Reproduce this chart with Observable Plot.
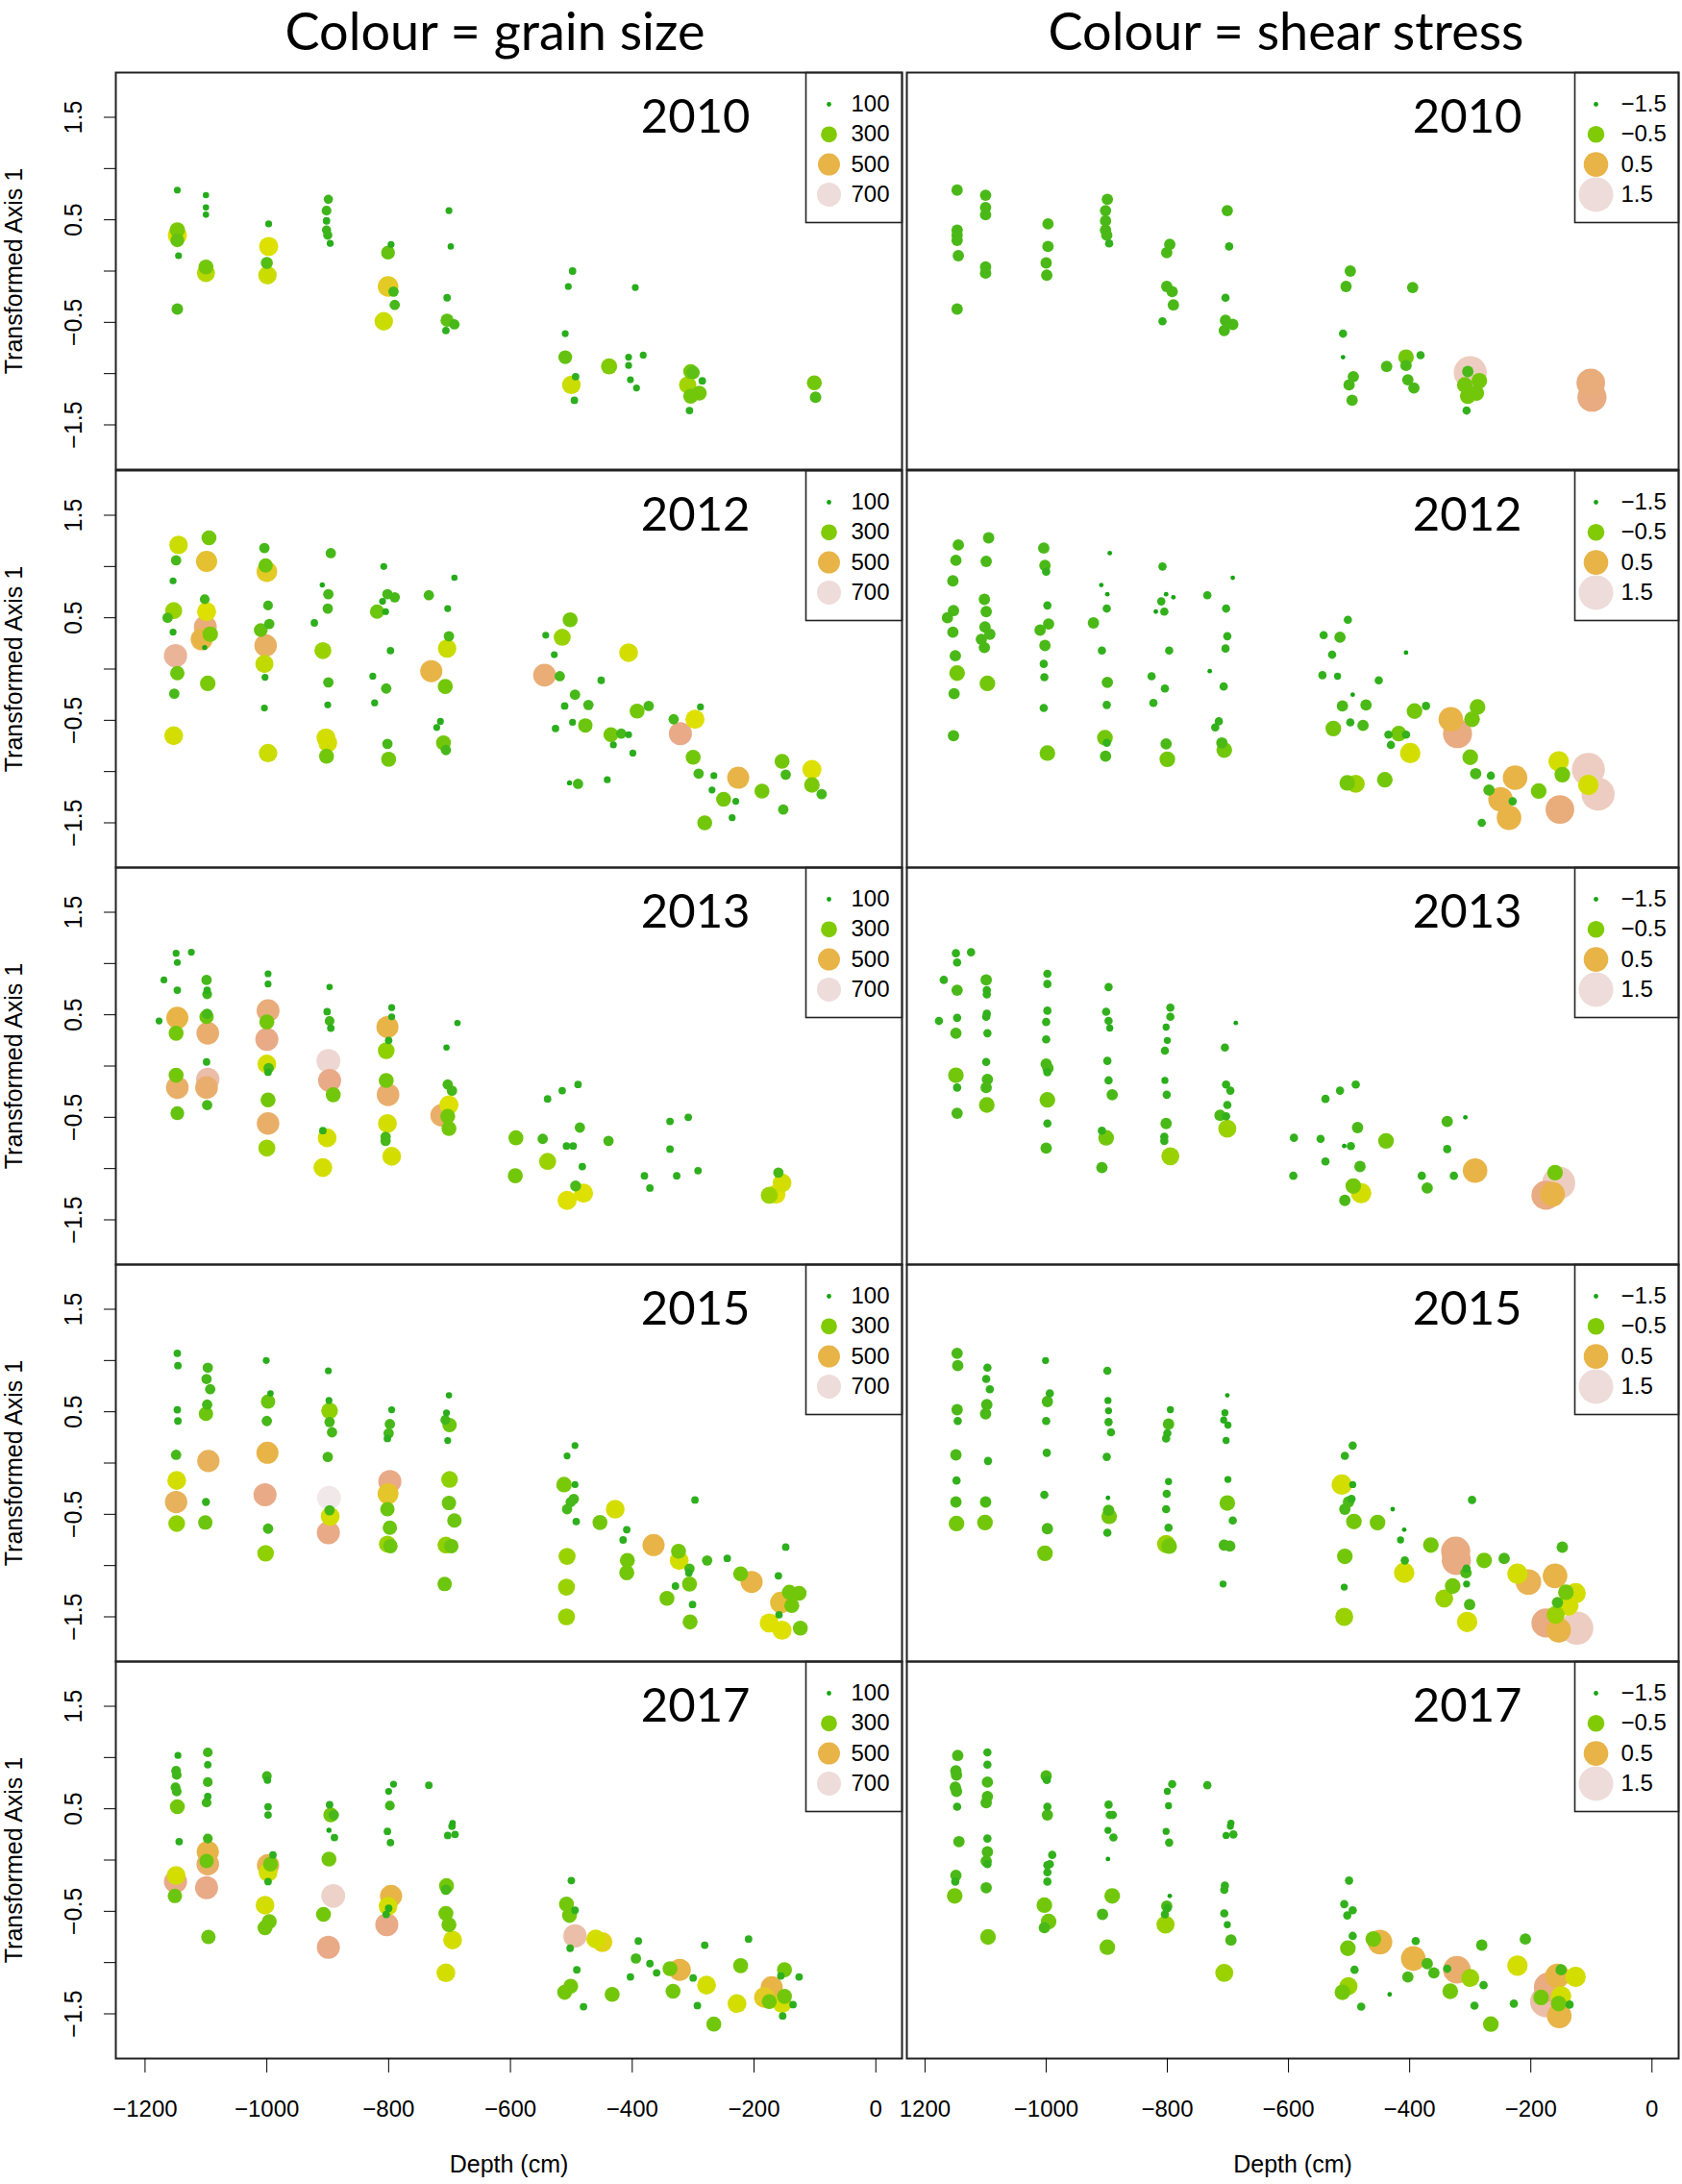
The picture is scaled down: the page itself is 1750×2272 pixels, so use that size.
<!DOCTYPE html>
<html><head><meta charset="utf-8">
<script src="https://cdn.jsdelivr.net/npm/d3@7"></script>
<script src="https://cdn.jsdelivr.net/npm/@observablehq/plot@0.6"></script>
<style>
body{margin:0;background:#fff;}
#wrap{position:relative;width:1750px;height:2272px;background:#fff;overflow:hidden;}
.title{position:absolute;top:2px;font-family:Lato,sans-serif;font-size:54px;line-height:60px;white-space:nowrap;transform:translateX(-50%);color:#000;}
.panel{position:absolute;}
</style></head><body><div id="wrap"></div>
<script>
// ---------- data ----------
const years = [2010, 2012, 2013, 2015, 2017];
const columnTitles = ["Colour = grain size", "Colour = shear stress"];
const grainLegend = [100, 300, 500, 700];
const shearLegend = [-1.5, -0.5, 0.5, 1.5];
const yTicks = [-1.5, -1, -0.5, 0, 0.5, 1, 1.5];
const yTickLabels = [1.5, 0.5, -0.5, -1.5];
const xTicks = [-1200, -1000, -800, -600, -400, -200, 0];
// tick labels as printed (the right column's first label shows without its minus sign)
const xTickLabelsLeft = ["\u22121200", "\u22121000", "\u2212800", "\u2212600", "\u2212400", "\u2212200", "0"];
const xTickLabelsRight = ["1200", "\u22121000", "\u2212800", "\u2212600", "\u2212400", "\u2212200", "0"];
const yLabel = "Transformed Axis 1";
const xLabel = "Depth (cm)";

// each row: [depth (cm), transformed axis 1, grain size, shear stress]
const p2010 = [
[-1147,0.79,140,-0.95],[-1147,0.40,290,-0.95],[-1147,0.35,400,-0.95],[-1147,0.30,260,-0.95],[-1145,0.15,140,-0.95],[-1147,-0.37,220,-0.95],
[-1100,0.74,130,-0.95],[-1100,0.62,130,-0.95],[-1100,0.55,130,-0.95],[-1100,0.04,280,-0.95],[-1100,-0.02,360,-0.95],
[-997,0.46,140,-0.95],[-997,0.24,400,-0.95],[-1000,0.08,230,-0.95],[-999,-0.04,380,-0.95],
[-899,0.70,180,-0.95],[-902,0.59,190,-0.95],[-902,0.49,150,-0.95],[-902,0.40,180,-0.95],[-900,0.35,180,-0.95],[-896,0.27,140,-1.2],
[-796,0.26,140,-0.95],[-801,0.18,260,-0.95],[-801,-0.15,450,-0.95],[-792,-0.20,200,-0.95],[-790,-0.33,200,-0.95],[-808,-0.49,380,-1.2],
[-701,0.59,140,-0.95],[-698,0.24,130,-1.2],[-704,-0.26,150,-1.2],[-704,-0.48,250,-0.95],[-692,-0.52,200,-0.95],[-706,-0.58,150,-0.95],
[-498,0.00,150,-0.95],[-505,-0.15,140,-0.95],[-510,-0.61,140,-1.2],[-510,-0.84,260,-1.5],[-493,-1.03,150,-0.95],[-500,-1.11,380,-0.95],[-495,-1.26,150,-0.95],
[-438,-0.93,300,-0.95],[-406,-0.84,140,-0.6],[-406,-0.92,140,-0.95],[-403,-1.06,140,-0.95],[-393,-1.14,140,-0.95],[-395,-0.16,140,-0.95],[-382,-0.82,140,-1.2],
[-300,-0.99,250,1.35],[-304,-0.98,280,-0.95],[-309,-1.11,340,-0.6],[-304,-1.22,280,-0.6],[-306,-1.36,150,-1.2],[-285,-1.07,150,-0.6],[-290,-1.19,280,-0.6],
[-101,-1.09,280,0.9],[-99,-1.23,220,0.95]
];
const p2012 = [
[-1145,1.21,380,-0.95],[-1149,1.06,200,-0.95],[-1154,0.86,140,-0.95],[-1153,0.57,330,-0.95],[-1163,0.50,200,-0.95],[-1154,0.36,140,-0.95],
[-1150,0.13,620,-0.95],[-1147,-0.04,270,-0.6],[-1152,-0.24,200,-0.95],[-1153,-0.65,390,-0.95],
[-1095,1.28,280,-0.95],[-1099,1.05,470,-0.95],[-1102,0.68,190,-0.95],[-1099,0.56,400,-0.95],[-1101,0.41,580,-0.95],[-1093,0.34,290,-0.95],
[-1107,0.29,500,-0.95],[-1102,0.21,110,-0.95],[-1097,-0.14,290,-0.6],
[-1004,1.18,200,-0.95],[-1002,1.01,270,-0.95],[-1000,0.95,450,-1.2],[-998,0.62,190,-1.2],[-996,0.44,200,-0.95],[-1010,0.38,260,-0.95],
[-1002,0.23,540,-0.95],[-1004,0.05,370,-1.2],[-1003,-0.08,140,-1.2],[-1004,-0.38,140,-1.2],[-998,-0.82,380,-0.6],
[-895,1.13,200,-1.5],[-909,0.82,110,-1.5],[-899,0.73,200,-1.5],[-900,0.59,200,-1.2],[-922,0.45,150,-0.95],[-908,0.18,330,-1.2],
[-899,-0.13,200,-0.95],[-900,-0.35,140,-1.2],[-903,-0.67,390,-0.6],[-900,-0.72,390,-1.2],[-902,-0.85,280,-0.95],
[-808,1.00,140,-1.2],[-802,0.73,200,-1.5],[-790,0.70,200,-1.5],[-810,0.66,140,-1.2],[-819,0.56,270,-1.5],[-805,0.56,140,-1.2],
[-797,0.18,150,-1.2],[-826,-0.07,140,-1.2],[-804,-0.19,200,-1.2],[-823,-0.33,140,-1.2],[-802,-0.73,200,-0.95],[-800,-0.88,280,-0.6],
[-692,0.89,130,-1.5],[-734,0.72,200,-1.2],[-703,0.59,140,-1.2],[-701,0.32,200,-1.2],[-704,0.20,380,-1.2],[-730,-0.02,500,-1.5],
[-707,-0.17,280,-1.2],[-715,-0.51,140,-1.2],[-721,-0.57,140,-1.2],[-710,-0.72,280,-0.95],[-706,-0.79,200,-0.6],
[-502,0.48,280,-1.2],[-515,0.31,330,-0.95],[-542,0.33,140,-1.2],[-528,0.14,140,-1.2],[-406,0.16,390,-1.5],[-544,-0.06,570,-1.2],
[-519,-0.07,200,-1.3],[-451,-0.11,150,-1.2],[-494,-0.25,200,-1.5],[-511,-0.36,150,-0.95],[-472,-0.35,200,-0.95],[-373,-0.36,200,-1.2],
[-392,-0.41,280,-0.6],[-498,-0.52,140,-1.2],[-477,-0.55,270,-0.95],[-526,-0.58,150,-0.6],[-288,-0.37,140,-0.6],[-332,-0.49,200,0.5],
[-297,-0.49,400,-0.6],[-321,-0.63,600,0.95],[-435,-0.64,280,-1.2],[-418,-0.63,200,-0.6],[-406,-0.64,140,-1.2],[-431,-0.74,140,-1.2],
[-399,-0.82,140,-0.05],[-300,-0.86,280,-0.6],[-291,-1.02,200,-0.95],[-266,-1.04,140,-1.2],[-226,-1.06,500,0.5],[-154,-0.90,280,-0.05],
[-105,-0.98,400,1.35],[-148,-1.03,200,-0.6],[-105,-1.13,290,-0.05],[-89,-1.22,200,1.35],[-187,-1.19,280,-0.6],[-250,-1.27,280,0.5],
[-269,-1.18,140,-0.95],[-230,-1.29,140,-1.2],[-152,-1.37,200,0.9],[-281,-1.50,280,-1.2],[-236,-1.45,140,0.5],
[-503,-1.11,110,-0.6],[-489,-1.12,200,-0.35],[-441,-1.08,140,-0.6]
];
const p2013 = [
[-1149,1.10,140,-1.2],[-1147,1.01,140,-1.2],[-1124,1.11,140,-1.2],[-1169,0.84,140,-1.2],[-1147,0.74,150,-0.95],[-1177,0.44,140,-1.2],
[-1147,0.47,500,-1.2],[-1149,0.32,280,-0.95],[-1149,-0.09,280,-0.6],[-1147,-0.21,550,-1.2],[-1147,-0.46,260,-0.95],
[-1099,0.84,200,-0.95],[-1098,0.74,150,-1.2],[-1098,0.70,190,-1.2],[-1098,0.51,200,-1.2],[-1099,0.48,270,-1.2],[-1097,0.32,560,-1.2],
[-1099,0.04,150,-1.2],[-1097,-0.13,640,-0.95],[-1099,-0.21,560,-0.95],[-1098,-0.38,200,-0.6],
[-998,0.90,140,-1.2],[-998,0.80,140,-1.2],[-998,0.54,580,-1.2],[-1000,0.43,280,-1.2],[-1000,0.26,600,-1.2],[-1000,0.02,390,-0.95],
[-997,-0.02,200,-0.95],[-998,-0.06,150,-1.2],[-998,-0.33,280,-0.6],[-998,-0.56,550,-1.2],[-1000,-0.80,330,-0.95],
[-897,0.77,130,-1.2],[-901,0.53,150,-1.2],[-897,0.44,190,-1.2],[-895,0.37,150,-1.3],[-899,0.05,690,-1.2],[-897,-0.14,600,-1.2],
[-891,-0.28,280,-0.95],[-908,-0.63,150,-1.2],[-901,-0.70,390,-0.6],[-908,-0.99,390,-0.95],
[-795,0.57,140,-1.2],[-795,0.48,140,-1.2],[-802,0.38,500,-1.3],[-800,0.25,150,-1.3],[-804,0.15,320,-1.2],[-804,-0.14,280,-1.3],
[-801,-0.28,560,-1.2],[-802,-0.56,390,-0.95],[-805,-0.69,200,-1.2],[-805,-0.73,200,-1.2],[-795,-0.88,390,-0.35],
[-687,0.42,130,-1.5],[-705,0.18,130,-1.2],[-703,-0.18,200,-1.2],[-696,-0.24,200,-1.2],[-701,-0.38,400,-1.2],[-713,-0.48,550,-0.95],
[-703,-0.49,280,-1.2],[-701,-0.61,280,-0.35],
[-539,-0.32,150,-1.2],[-515,-0.24,150,-1.2],[-489,-0.18,150,-1.2],[-486,-0.60,200,-0.95],[-591,-0.70,280,-1.2],[-547,-0.71,200,-1.2],
[-508,-0.78,150,-1.5],[-497,-0.78,150,-1.2],[-439,-0.73,200,-0.6],[-539,-0.93,330,-1.2],[-482,-0.98,150,-0.95],[-592,-1.07,280,-1.2],
[-493,-1.17,210,-0.6],[-480,-1.24,400,-0.05],[-507,-1.31,400,-0.95],
[-338,-0.54,150,-0.95],[-308,-0.50,150,-1.5],[-338,-0.81,150,-1.2],[-380,-1.07,150,-1.2],[-371,-1.19,150,-0.95],[-327,-1.07,150,-1.2],
[-292,-1.02,150,0.5],[-154,-1.14,390,1.35],[-160,-1.04,200,-0.6],[-175,-1.26,330,0.95],[-164,-1.25,400,0.5]
];
const p2015 = [
[-1147,1.07,150,-0.95],[-1146,0.95,150,-0.95],[-1147,0.52,150,-0.95],[-1146,0.41,150,-1.2],[-1149,0.08,200,-0.95],[-1148,-0.17,390,-1.2],
[-1149,-0.38,530,-0.95],[-1148,-0.59,320,-0.6],
[-1097,0.93,200,-1.2],[-1099,0.82,200,-1.2],[-1093,0.72,200,-1.2],[-1098,0.57,200,-0.95],[-1100,0.48,270,-0.95],[-1096,0.02,530,-1.2],
[-1100,-0.38,160,-0.95],[-1101,-0.58,270,-0.6],
[-1001,1.00,140,-1.3],[-994,0.68,130,-1.2],[-998,0.60,270,-0.95],[-1000,0.41,200,-1.2],[-999,0.10,500,-1.2],[-1003,-0.31,600,-1.2],
[-998,-0.64,200,-0.95],[-1002,-0.88,320,-0.6],
[-899,0.90,140,-1.2],[-898,0.61,140,-1.3],[-897,0.51,320,-1.3],[-897,0.40,200,-1.2],[-893,0.30,200,-1.2],[-900,0.06,200,-1.2],
[-898,-0.34,720,-1.5],[-897,-0.46,200,-0.95],[-896,-0.52,390,-0.6],[-899,-0.68,600,-1.2],
[-795,0.52,140,-1.3],[-798,0.38,200,-0.95],[-800,0.29,200,-1.2],[-802,0.24,150,-1.2],[-798,-0.18,600,-1.3],[-801,-0.30,460,-1.2],
[-802,-0.45,270,-1.2],[-798,-0.63,270,-1.2],[-802,-0.79,330,-0.35],[-797,-0.81,270,-0.6],
[-701,0.66,130,-1.5],[-705,0.49,140,-1.3],[-707,0.42,190,-1.3],[-700,0.37,270,-1.3],[-703,0.22,140,-1.3],[-700,-0.16,320,-1.3],
[-701,-0.39,270,-0.6],[-692,-0.56,270,-1.2],[-706,-0.80,320,-0.95],[-697,-0.81,270,-0.95],[-708,-1.18,270,-1.3],
[-494,0.17,140,-1.2],[-507,0.07,140,-1.2],[-512,-0.21,290,-0.05],[-494,-0.21,140,-1.3],[-496,-0.35,200,-1.2],[-501,-0.38,200,-0.95],
[-507,-0.45,200,-0.95],[-492,-0.57,150,-0.6],[-453,-0.58,280,-0.6],[-428,-0.45,390,-1.5],[-409,-0.65,150,-1.5],[-415,-0.75,150,-1.3],
[-365,-0.80,500,-0.6],[-324,-0.86,280,0.95],[-323,-0.95,390,0.95],[-408,-0.95,280,-1.2],[-409,-1.07,280,-0.05],[-306,-1.03,200,-1.2],
[-307,-1.07,150,-0.95],[-306,-1.18,280,-1.3],[-329,-1.20,150,-0.6],[-343,-1.32,280,-0.35],[-301,-1.38,150,-0.95],[-305,-1.55,280,-0.05],
[-277,-0.95,200,-0.6],[-244,-0.93,150,-0.95],[-297,-0.36,150,-1.2],[-222,-1.08,280,-0.05],[-204,-1.16,500,0.6],[-148,-0.82,150,-0.95],
[-160,-1.10,150,0.5],[-142,-1.26,280,-0.6],[-126,-1.27,280,-0.05],[-156,-1.36,480,-0.95],[-138,-1.39,280,-0.05],[-159,-1.48,150,-0.35],
[-175,-1.56,400,0.95],[-154,-1.63,400,0.5],[-124,-1.61,280,1.35],
[-507,-0.91,330,-0.6],[-508,-1.21,330,-1.3],[-508,-1.50,330,-0.35]
];
const p2017 = [
[-1146,1.02,140,-0.95],[-1149,0.87,190,-0.95],[-1148,0.83,190,-0.95],[-1150,0.71,190,-0.95],[-1148,0.67,190,-0.95],[-1147,0.52,280,-1.2],
[-1144,0.18,150,-0.95],[-1149,-0.15,390,-0.95],[-1150,-0.21,600,-1.2],[-1151,-0.35,270,-0.6],
[-1097,1.05,190,-1.2],[-1097,0.93,150,-1.2],[-1097,0.76,190,-0.95],[-1097,0.62,150,-0.95],[-1099,0.56,190,-0.95],[-1097,0.21,190,-1.2],
[-1097,0.08,500,-0.95],[-1099,-0.01,270,-0.95],[-1097,-0.04,550,-1.2],[-1099,-0.27,600,-0.95],[-1096,-0.75,270,-0.6],
[-1000,0.82,190,-0.95],[-999,0.78,150,-1.2],[-998,0.52,150,-1.2],[-998,0.44,150,-0.95],[-990,0.05,150,-1.2],[-998,-0.05,520,-1.2],
[-994,-0.04,280,-1.2],[-998,-0.12,390,-1.2],[-998,-0.21,150,-1.2],[-1003,-0.44,390,-0.6],[-996,-0.60,280,-0.6],[-1003,-0.66,280,-0.95],
[-897,0.54,150,-1.2],[-895,0.44,280,-1.2],[-890,0.44,200,-1.2],[-898,0.29,110,-1.3],[-889,0.22,150,-1.2],[-898,0.01,280,-1.5],
[-891,-0.35,680,-0.6],[-907,-0.53,280,-0.95],[-899,-0.85,600,-0.6],
[-792,0.74,140,-1.2],[-800,0.67,140,-1.3],[-798,0.53,190,-1.3],[-802,0.28,150,-1.3],[-797,0.17,150,-1.2],[-796,-0.35,500,-1.5],
[-801,-0.45,390,-0.95],[-800,-0.47,150,-1.2],[-804,-0.53,150,-1.2],[-803,-0.63,600,-0.35],
[-734,0.73,150,-1.2],[-695,0.36,130,-1.3],[-696,0.33,150,-1.3],[-703,0.24,150,-1.3],[-691,0.25,150,-1.2],[-705,-0.25,280,-1.2],
[-706,-0.29,200,-1.2],[-706,-0.52,280,-1.2],[-701,-0.63,280,-1.3],[-695,-0.78,390,-0.95],[-706,-1.10,390,-0.35],
[-500,-0.20,150,-1.2],[-508,-0.43,280,-1.2],[-494,-0.49,150,-1.2],[-503,-0.54,280,-1.2],[-494,-0.74,640,-1.2],[-460,-0.77,390,-0.6],
[-449,-0.80,430,0.5],[-502,-0.86,150,-0.6],[-390,-0.79,150,-1.2],[-281,-0.83,150,-0.95],[-209,-0.77,150,-0.95],[-394,-0.96,200,0.5],
[-371,-1.01,150,-0.95],[-360,-1.10,150,-0.95],[-338,-1.06,280,-1.2],[-322,-1.07,500,0.8],[-300,-1.15,150,-0.35],[-278,-1.22,390,-1.2],
[-333,-1.28,280,-0.6],[-293,-1.42,150,-1.2],[-266,-1.60,280,-0.6],[-403,-1.14,150,-0.95],[-433,-1.31,280,-1.5],[-491,-1.07,150,-1.2],
[-501,-1.23,280,-0.35],[-511,-1.29,280,-0.6],[-480,-1.43,150,-1.2],[-222,-1.03,280,-0.05],[-228,-1.40,390,-1.2],[-150,-1.07,280,-0.95],
[-156,-1.13,150,0.5],[-126,-1.14,150,-0.05],[-171,-1.24,500,0.95],[-183,-1.34,450,-0.6],[-175,-1.38,280,1.2],[-150,-1.33,280,-0.05],
[-154,-1.40,390,-0.6],[-136,-1.41,150,-1.2],[-153,-1.52,150,0.5]
];
const panelsData = [p2010, p2012, p2013, p2015, p2017];

// terrain-like palette
const grainStops = [70, 150, 250, 320, 400, 500, 600, 700, 730];
const shearStops = [-1.65, -1.25, -0.75, -0.4, 0, 0.5, 1.0, 1.5, 1.65];
const terrainColors = ["#0A9E0A", "#2DAF1E", "#5EC014", "#8FD000", "#DDE000", "#E8B448", "#E9AA88", "#EEDCDA", "#F2F0F0"];

// ---------- drawing ----------
const fmt = d => (d < 0 ? "\u2212" : "") + Math.abs(d);
const wrap = document.getElementById("wrap");
const rowTops = [75, 489, 902, 1315, 1728];
const FRAME_H = 413;

function panel(row, col) {
  const left = col === 0;
  const bottom = row === years.length - 1;
  const data = panelsData[row];
  const key = left ? 2 : 3;
  const mL = left ? 120 : 1, mR = 4, mT = 4, mB = bottom ? 130 : 4;
  const W = left ? 942 : 808;
  const H = FRAME_H + mT + mB;
  const fw = W - mL - mR;
  const legW = left ? 100 : 108;
  const dotOff = left ? 76 : 86;
  const textOff = left ? 53 : 60;
  const legendVals = left ? grainLegend : shearLegend;
  const xLabels = left ? xTickLabelsLeft : xTickLabelsRight;

  const marks = [
    Plot.frame({stroke: "#222", strokeWidth: 2}),
    Plot.dot(data, {x: d => d[0], y: d => d[1], r: d => d[key], fill: d => d[key]}),
    Plot.frame({insetLeft: fw - legW, insetTop: 0, insetBottom: FRAME_H - 156, stroke: "#222", strokeWidth: 1.6}),
    Plot.text([years[row]], {text: d => String(d), frameAnchor: "top-right", dx: left ? -158 : -163, dy: 47,
      textAnchor: "end", lineAnchor: "middle", fontSize: 49, fontFamily: "Lato, sans-serif"})
  ];
  legendVals.forEach((v, i) => {
    const dy = 33 + i * 31.3;
    marks.push(Plot.dot([v], {frameAnchor: "top-right", dx: -dotOff, dy, r: d => d, fill: d => d}));
    marks.push(Plot.text([v], {frameAnchor: "top-right", dx: -textOff, dy, text: fmt, textAnchor: "start", lineAnchor: "middle", fontSize: 24}));
  });
  if (left) {
    marks.push(Plot.axisY({ticks: yTicks, tickSize: 12, tickFormat: () => "", label: null}));
    marks.push(Plot.text(yTickLabels, {y: d => d, text: fmt, frameAnchor: "left", dx: -44, rotate: -90,
      textAnchor: "middle", lineAnchor: "middle", fontSize: 25}));
    marks.push(Plot.text([yLabel], {text: d => d, frameAnchor: "left", dx: -106, rotate: -90,
      textAnchor: "middle", lineAnchor: "middle", fontSize: 25}));
  }
  if (bottom) {
    marks.push(Plot.axisX({ticks: xTicks, tickSize: 15, tickPadding: 28,
      tickFormat: d => xLabels[xTicks.indexOf(d)], label: null, fontSize: 24}));
    marks.push(Plot.text([xLabel], {text: d => d, frameAnchor: "bottom", dy: 118, fontSize: 25}));
  }
  const chart = Plot.plot({
    width: W, height: H,
    marginLeft: mL, marginRight: mR, marginTop: mT, marginBottom: mB,
    x: {domain: left ? [-1248, 43] : [-1230, 44], ...(bottom ? {} : {axis: null})},
    y: {domain: [-1.936, 1.936], ...(left ? {} : {axis: null})},
    r: left ? {type: "linear", domain: [100, 300, 500, 700], range: [2.4, 8.4, 11.5, 12.5], clamp: true}
            : {type: "linear", domain: [-1.5, -0.5, 0.5, 1.5], range: [2.4, 8.8, 12.8, 18], clamp: true},
    color: {type: "linear", domain: left ? grainStops : shearStops, range: terrainColors, clamp: true, interpolate: "rgb"},
    style: {background: "transparent", fontFamily: "'Liberation Sans', Arial, sans-serif", fontSize: "24px",
            color: "#000", overflow: "visible"},
    marks
  });
  const holder = document.createElement("div");
  holder.className = "panel";
  holder.style.left = (left ? 0 : 942) + "px";
  holder.style.top = (rowTops[row] - mT) + "px";
  holder.appendChild(chart);
  wrap.appendChild(holder);
}

years.forEach((y, r) => { panel(r, 0); panel(r, 1); });

[515, 1338].forEach((cx, i) => {
  const t = document.createElement("div");
  t.className = "title";
  t.style.left = cx + "px";
  t.textContent = columnTitles[i];
  wrap.appendChild(t);
});
</script>
</body></html>
